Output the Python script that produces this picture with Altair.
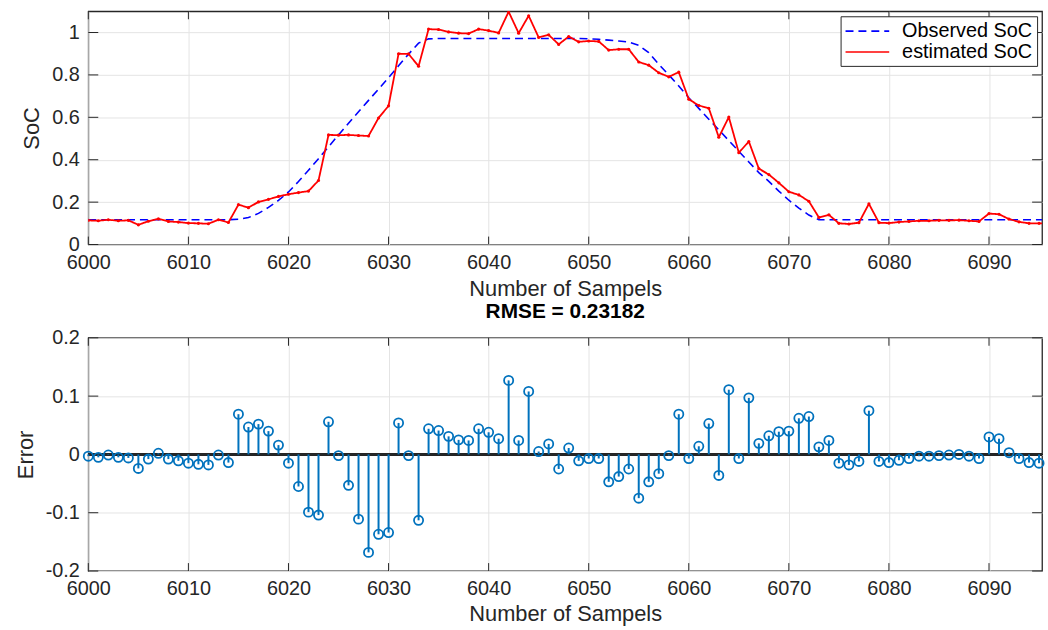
import altair as alt
import pandas as pd

# ---------------- data ----------------
samples = list(range(6000, 6097))
observed = [
    0.117, 0.117, 0.117, 0.117, 0.117, 0.117, 0.117, 0.117, 0.117, 0.117,
    0.117, 0.117, 0.117, 0.117, 0.117, 0.119, 0.127, 0.147, 0.175, 0.208,
    0.248, 0.297, 0.350, 0.405, 0.461, 0.517, 0.572, 0.626, 0.680, 0.733,
    0.787, 0.843, 0.898, 0.950, 0.970, 0.972, 0.972, 0.972, 0.972, 0.972,
    0.972, 0.972, 0.972, 0.972, 0.972, 0.972, 0.972, 0.972, 0.972, 0.972,
    0.970, 0.968, 0.964, 0.960, 0.955, 0.940, 0.905, 0.850, 0.800, 0.748,
    0.692, 0.642, 0.591, 0.541, 0.490, 0.440, 0.389, 0.339, 0.298, 0.252,
    0.209, 0.172, 0.139, 0.117, 0.117, 0.117, 0.117, 0.117, 0.117, 0.117,
    0.117, 0.117, 0.117, 0.117, 0.117, 0.117, 0.117, 0.117, 0.117, 0.117,
    0.117, 0.117, 0.117, 0.117, 0.117, 0.117, 0.117,
]
estimated = [
    0.114, 0.112, 0.117, 0.112, 0.114, 0.093, 0.110, 0.121, 0.109, 0.106,
    0.101, 0.100, 0.098, 0.117, 0.104, 0.188, 0.174, 0.201, 0.213, 0.227,
    0.237, 0.245, 0.252, 0.302, 0.517, 0.516, 0.517, 0.514, 0.512, 0.597,
    0.654, 0.900, 0.899, 0.841, 1.016, 1.014, 1.003, 0.997, 0.995, 1.016,
    1.009, 0.998, 1.098, 0.997, 1.079, 0.977, 0.989, 0.944, 0.981, 0.956,
    0.960, 0.958, 0.917, 0.921, 0.921, 0.861, 0.846, 0.810, 0.791, 0.813,
    0.685, 0.656, 0.643, 0.506, 0.601, 0.433, 0.486, 0.358, 0.330, 0.291,
    0.249, 0.234, 0.204, 0.128, 0.140, 0.100, 0.097, 0.103, 0.192, 0.103,
    0.101, 0.106, 0.109, 0.112, 0.112, 0.114, 0.114, 0.115, 0.112, 0.109,
    0.146, 0.143, 0.120, 0.107, 0.100, 0.100, 0.099,
]
err_samples = list(range(6000, 6096))
errors = [
    -0.003, -0.005, -0.001, -0.005, -0.006, -0.024, -0.008, 0.002, -0.008, -0.011,
    -0.015, -0.017, -0.018, -0.001, -0.014, 0.069, 0.047, 0.052, 0.040, 0.016,
    -0.015, -0.055, -0.099, -0.104, 0.056, -0.002, -0.053, -0.111, -0.168, -0.137,
    -0.134, 0.054, -0.002, -0.113, 0.044, 0.041, 0.031, 0.025, 0.024, 0.044,
    0.038, 0.027, 0.127, 0.024, 0.108, 0.005, 0.018, -0.025, 0.011, -0.011,
    -0.007, -0.007, -0.047, -0.038, -0.025, -0.075, -0.047, -0.033, -0.002, 0.069,
    -0.007, 0.014, 0.053, -0.036, 0.111, -0.007, 0.097, 0.019, 0.032, 0.039,
    0.040, 0.062, 0.065, 0.013, 0.024, -0.015, -0.018, -0.012, 0.075, -0.012,
    -0.014, -0.010, -0.007, -0.003, -0.003, -0.002, -0.001, 0.000, -0.003, -0.007,
    0.030, 0.027, 0.003, -0.007, -0.014, -0.015,
]
x_ticks = [6000, 6010, 6020, 6030, 6040, 6050, 6060, 6070, 6080, 6090]
soc_ticks = [0, 0.2, 0.4, 0.6, 0.8, 1]
err_ticks = [-0.2, -0.1, 0, 0.1, 0.2]
series_names = ["Observed SoC", "estimated SoC"]
rmse_title = "RMSE = 0.23182"

# ---------------- styling ----------------
W, H = 961, 235
FONT = "Liberation Sans"
AXC = "#262626"
STEM = "#0072BD"

obs_df = pd.DataFrame({"s": samples, "v": observed, "series": series_names[0]})
est_df = pd.DataFrame({"s": samples, "v": estimated, "series": series_names[1]})
err_df = pd.DataFrame({"s": err_samples, "e": errors})
xt_df = pd.DataFrame({"t": x_ticks})
yt1_df = pd.DataFrame({"t": soc_ticks})
yt2_df = pd.DataFrame({"t": err_ticks})

xscale = alt.Scale(domain=[6000, 6095.3], nice=False, zero=False)
xaxis_top = alt.Axis(values=x_ticks, format="d", title="Number of Sampels",
                     labelFlush=False, labelOverlap=False, labelPadding=8,
                     titlePadding=6)
xaxis_bot = alt.Axis(values=x_ticks, format="d", title="Number of Sampels",
                     labelFlush=False, labelOverlap=False, labelPadding=8,
                     titlePadding=5)
yscale1 = alt.Scale(domain=[0, 1.1], nice=False, zero=False)
yscale2 = alt.Scale(domain=[-0.2, 0.2], nice=False, zero=False)

color_scale = alt.Scale(domain=series_names, range=["#0000ff", "#ff0000"])
dash_scale = alt.Scale(domain=series_names, range=[[8, 5], [1, 0]])
legend = alt.Legend(title=None, orient="top-right", offset=5,
                    fillColor="white", strokeColor=AXC, padding=4,
                    symbolType="M-2.2,0H2.2", symbolSize=400,
                    symbolStrokeWidth=1.7, symbolOffset=12,
                    labelFont=FONT, labelFontSize=20, labelColor="black",
                    labelOffset=24, rowPadding=0)


def tick_layers(ydata, yfield_scale):
    xb = alt.Chart(xt_df).mark_rule(color=AXC, strokeWidth=1).encode(
        x=alt.X("t:Q", scale=xscale), y=alt.value(H), y2=alt.value(H - 8))
    xt = alt.Chart(xt_df).mark_rule(color=AXC, strokeWidth=1).encode(
        x=alt.X("t:Q", scale=xscale), y=alt.value(0), y2=alt.value(8))
    yl = alt.Chart(ydata).mark_rule(color=AXC, strokeWidth=1).encode(
        y=alt.Y("t:Q", scale=yfield_scale), x=alt.value(0), x2=alt.value(10))
    yr = alt.Chart(ydata).mark_rule(color=AXC, strokeWidth=1).encode(
        y=alt.Y("t:Q", scale=yfield_scale), x=alt.value(W), x2=alt.value(W - 10))
    return [xb, xt, yl, yr]


# ---------------- top panel ----------------
obs_line = alt.Chart(obs_df).mark_line(strokeWidth=1.6, clip=True).encode(
    x=alt.X("s:Q", scale=xscale, axis=xaxis_top),
    y=alt.Y("v:Q", scale=yscale1,
            axis=alt.Axis(values=soc_ticks, labelExpr="datum.value + ''",
                          title="SoC", labelPadding=9, titlePadding=8)),
    color=alt.Color("series:N", scale=color_scale, legend=legend),
    strokeDash=alt.StrokeDash("series:N", scale=dash_scale, legend=legend),
)
est_line = alt.Chart(est_df).mark_line(strokeWidth=1.8, clip=True,
                                       strokeJoin="round").encode(
    x=alt.X("s:Q", scale=xscale),
    y=alt.Y("v:Q", scale=yscale1),
    color=alt.Color("series:N", scale=color_scale, legend=legend),
    strokeDash=alt.StrokeDash("series:N", scale=dash_scale, legend=legend),
)
est_dots = alt.Chart(est_df).mark_circle(size=10, color="#ff0000", opacity=1,
                                         clip=True).encode(
    x=alt.X("s:Q", scale=xscale),
    y=alt.Y("v:Q", scale=yscale1),
)
top = alt.layer(*tick_layers(yt1_df, yscale1), obs_line, est_line, est_dots).properties(
    width=W, height=H)

# ---------------- bottom panel ----------------
baseline = alt.Chart(err_df).mark_rule(color=AXC, strokeWidth=1.6).encode(
    y=alt.datum(0, scale=yscale2))
stems = alt.Chart(err_df).mark_rule(color=STEM, strokeWidth=2).encode(
    x=alt.X("s:Q", scale=xscale, axis=xaxis_bot),
    y=alt.Y("e:Q", scale=yscale2,
            axis=alt.Axis(values=err_ticks, labelExpr="datum.value + ''",
                          title="Error", labelPadding=9, titlePadding=8)),
    y2=alt.datum(0),
)
circles = alt.Chart(err_df).mark_point(shape="circle", filled=False, size=85,
                                       strokeWidth=1.8, color=STEM,
                                       opacity=1).encode(
    x=alt.X("s:Q", scale=xscale),
    y=alt.Y("e:Q", scale=yscale2),
)
bottom = alt.layer(*tick_layers(yt2_df, yscale2), baseline, stems, circles).properties(
    width=W, height=H,
    title=alt.TitleParams(rmse_title, font=FONT, fontSize=21, fontWeight="bold",
                          color="black", offset=6),
)

chart = alt.vconcat(top, bottom, spacing=0).properties(
    padding={"left": 13, "top": 7, "right": 0, "bottom": 0},
    background="white",
).configure_view(
    stroke=AXC, strokeWidth=1.3,
).configure_axis(
    grid=True, gridColor="#e4e4e4", gridWidth=1, ticks=False, domain=False,
    labelFont=FONT, labelFontSize=20, labelColor=AXC,
    titleFont=FONT, titleFontSize=22, titleFontWeight="normal", titleColor=AXC,
)

chart.save("out.html", embed_options={"renderer": "svg", "actions": False})
